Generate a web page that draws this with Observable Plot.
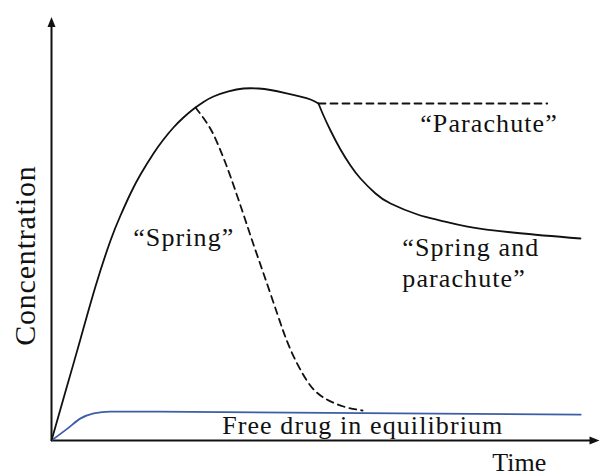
<!DOCTYPE html>
<html>
<head>
<meta charset="utf-8">
<script src="https://cdn.jsdelivr.net/npm/d3@7"></script>
<script src="https://cdn.jsdelivr.net/npm/@observablehq/plot@0.6"></script>
<style>
  html, body { margin: 0; padding: 0; background: #fff; }
  #chart svg { display: block; }
  text[aria-label="labels"], g[aria-label="labels"] text { letter-spacing: 1.1px; }
  text[aria-label="ylabel"], g[aria-label="ylabel"] text { letter-spacing: 0.8px; }
</style>
</head>
<body>
<div id="chart"></div>
<script>
// Rising part (shared by both curves) – time / concentration (arbitrary units)
const riseT = [0, 2.73, 5.28, 8.01, 10.75, 12.57, 14.39, 16.21, 18.58, 20.40, 22.22, 24.04, 25.87, 27.69, 29.51, 32.24, 34.97, 37.70, 39.89, 42.62, 45.36, 47.18, 48.63];
const riseC = [0, 12.35, 23.88, 36.24, 47.06, 52.94, 58.12, 62.59, 67.53, 70.82, 73.65, 76.0, 78.0, 79.65, 80.94, 82.12, 82.82, 82.82, 82.47, 81.76, 80.94, 80.24, 79.29];

// "Spring and parachute" decline
const spT = [48.63, 49.54, 50.82, 52.64, 54.46, 56.28, 59.02, 61.75, 66.67, 70.86, 75.77, 84.88, 96.36];
const spC = [79.29, 76.47, 72.94, 68.47, 64.71, 61.65, 58.12, 55.76, 53.18, 51.76, 50.35, 48.82, 47.53];

// "Parachute" (dashed, maintained supersaturation)
const paraT = [48.63, 90.3];
const paraC = [79.29, 79.29];

// "Spring" (dashed, rapid precipitation)
const springT = [26.23, 27.87, 29.51, 31.15, 32.6, 34.79, 36.61, 38.62, 41.17, 43.53, 46.63, 49.54, 53.19, 56.65];
const springC = [78.35, 75.53, 72.0, 67.06, 62.12, 53.88, 46.82, 39.29, 29.65, 21.41, 13.88, 10.12, 8.0, 7.06];

// Free drug in equilibrium (blue)
const freeT = [0, 2.9, 5.3, 7.7, 10.7, 19.3, 96.4];
const freeC = [0, 2.8, 5.2, 6.4, 6.8, 6.8, 6.1];

// Text
const labelParachute = "\u201CParachute\u201D";
const labelSpring = "\u201CSpring\u201D";
const labelSpringPara = "\u201CSpring and\nparachute\u201D";
const labelFree = "Free drug in equilibrium";
const labelX = "Time";
const labelY = "Concentration";

const pts = (T, C) => T.map((t, i) => ({t, c: C[i]}));

const chart = Plot.plot({
  width: 601,
  height: 476,
  marginLeft: 51,
  marginRight: 1,
  marginTop: 15,
  marginBottom: 36,
  x: {domain: [0, 100], axis: null},
  y: {domain: [0, 100], axis: null},
  style: {fontFamily: "'Liberation Serif', serif", background: "#fff", color: "#111"},
  marks: [
    // axes
    Plot.link([0], {x1: 0, y1: 0, x2: 0, y2: 97.8, stroke: "#111", strokeWidth: 2}),
    Plot.link([0], {x1: 0, y1: 0, x2: 98.3, y2: 0, stroke: "#111", strokeWidth: 2}),
    Plot.vector([0], {x: 0, y: 97.3, rotate: 0, length: 10, r: 4, shape: "spike", anchor: "start", fill: "#111", stroke: "none"}),
    Plot.vector([0], {x: 98.0, y: 0, rotate: 90, length: 10, r: 4, shape: "spike", anchor: "start", fill: "#111", stroke: "none"}),
    // curves
    Plot.line(pts(freeT, freeC), {x: "t", y: "c", stroke: "#3b5ea6", strokeWidth: 1.8, curve: "monotone-x"}),
    Plot.line(pts(springT, springC), {x: "t", y: "c", stroke: "#111", strokeWidth: 1.8, strokeDasharray: "7,5", curve: "natural"}),
    Plot.line(pts(paraT, paraC), {x: "t", y: "c", stroke: "#111", strokeWidth: 1.8, strokeDasharray: "7,5"}),
    Plot.line(pts(riseT, riseC), {x: "t", y: "c", stroke: "#111", strokeWidth: 1.8, curve: "natural"}),
    Plot.line(pts(spT, spC), {x: "t", y: "c", stroke: "#111", strokeWidth: 1.8, curve: "natural"}),
    // annotations
    Plot.text([labelParachute], {x: 79.7, y: 74.6, text: d => d, fontSize: 26, fill: "#111", ariaLabel: () => "labels"}),
    Plot.text([labelSpring], {x: 24.1, y: 47.8, text: d => d, fontSize: 26, fill: "#111", ariaLabel: () => "labels"}),
    Plot.text([labelSpringPara], {x: 63.9, y: 48.6, text: d => d, fontSize: 26, lineHeight: 1.19, textAnchor: "start", lineAnchor: "top", fill: "#111", ariaLabel: () => "labels"}),
    Plot.text([labelFree], {x: 56.7, y: 3.6, text: d => d, fontSize: 26, fill: "#111", ariaLabel: () => "labels"}),
    Plot.text([labelX], {x: 85.2, y: -5.2, text: d => d, fontSize: 26, fill: "#111"}),
    Plot.text([labelY], {x: -4.7, y: 43.5, text: d => d, fontSize: 30, rotate: -90, fill: "#111", ariaLabel: () => "ylabel"})
  ]
});
document.getElementById("chart").appendChild(chart);
</script>
</body>
</html>
